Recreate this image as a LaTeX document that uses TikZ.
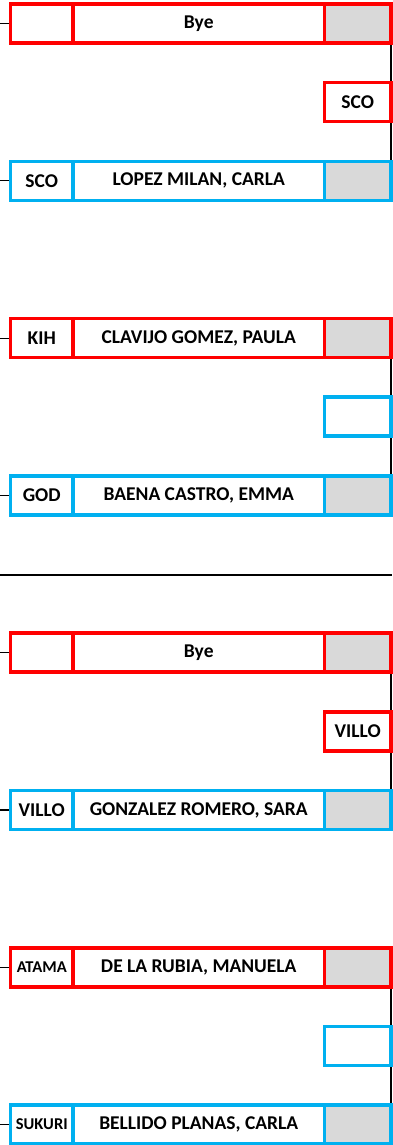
\documentclass[tikz,border=0pt]{standalone}
\usepackage{fontspec}
\setmainfont{Carlito}
\usetikzlibrary{positioning}

\definecolor{redline}{HTML}{FF0000}
\definecolor{blueline}{HTML}{00B0F0}
\definecolor{seedgray}{HTML}{D9D9D9}
\newcommand{\shrink}{\fontsize{16.5}{19}\selectfont}

\begin{document}
\begin{tikzpicture}[x=1pt, y=-1pt, font=\bfseries\fontsize{19.5}{23}\selectfont,
  cell/.style={draw, line width=3.6pt, minimum height=39pt, inner sep=0pt, outer sep=0pt},
  codecell/.style={cell, minimum width=62.5pt},
  namecell/.style={cell, minimum width=251.5pt},
  seedcell/.style={cell, minimum width=66.5pt, fill=seedgray},
  wincell/.style={cell, minimum width=66.5pt},
  link/.style={line width=1.2pt}]
  \useasboundingbox (0, 0) rectangle (392, 1145);

  % players
  \foreach \i/\code/\name/\col in {1/{}/Bye/redline, 2/SCO/{LOPEZ MILAN, CARLA}/blueline,
      3/KIH/{CLAVIJO GOMEZ, PAULA}/redline, 4/GOD/{BAENA CASTRO, EMMA}/blueline,
      5/{}/Bye/redline, 6/VILLO/{GONZALEZ ROMERO, SARA}/blueline,
      7/{\shrink ATAMA}/{DE LA RUBIA, MANUELA}/redline, 8/{\shrink SUKURI}/{BELLIDO PLANAS, CARLA}/blueline} {
    \pgfmathsetmacro{\y}{23.5 + 157.3*(\i - 1)}
    \node[codecell, draw=\col] (code\i) at (41.75, \y) {\code};
    \node[namecell, draw=\col, right=0pt of code\i] (name\i) {\name};
    \node[seedcell, draw=\col, right=0pt of name\i] (seed\i) {};
    \coordinate (tick\i) at (0, \y);
    \draw[link, shorten >=1.8pt] (tick\i) -- (code\i.west);
  }

  % winners
  \foreach \j/\win/\col in {1/SCO/redline, 2/{}/blueline, 3/VILLO/redline, 4/{}/blueline} {
    \pgfmathtruncatemacro{\a}{2*\j - 1}
    \pgfmathtruncatemacro{\b}{2*\j}
    \pgfmathsetmacro{\y}{102.15 + 314.6*(\j - 1)}
    \node[wincell, draw=\col] (win\j) at (357.75, \y) {\win};
    \draw[link, shorten <=1.8pt, shorten >=1.8pt] (seed\a.south east) -- (win\j.north east);
    \draw[link, shorten <=1.8pt, shorten >=1.8pt] (win\j.south east) -- (seed\b.north east);
  }

  \coordinate (sepL) at (0, 575);
  \coordinate (sepR) at (392, 575);
  \draw[line width=1.5pt] (sepL) -- (sepR);
\end{tikzpicture}
\end{document}
